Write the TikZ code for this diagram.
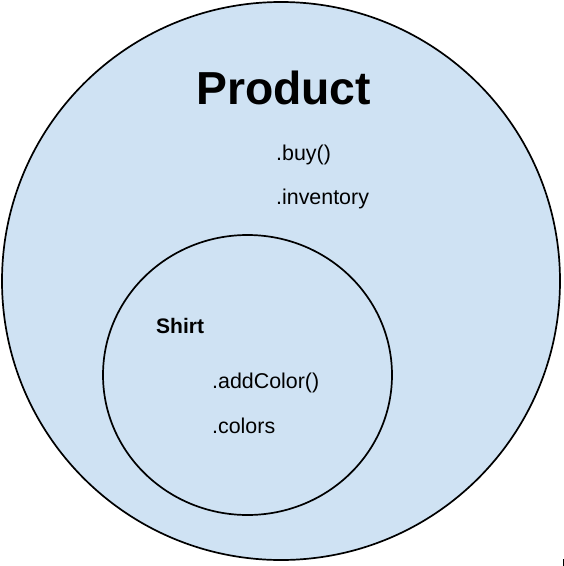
\documentclass[tikz,border=0pt]{standalone}
\usepackage{fontspec}
\setmainfont{Liberation Sans}
\definecolor{setfill}{HTML}{CFE2F3}
\begin{document}
\begin{tikzpicture}[x=1pt,y=-1pt,
  setshape/.style={draw=black,line width=1.7pt,fill=setfill},
  member/.style={inner sep=0pt,anchor=base west,font=\fontsize{21.4}{25}\selectfont},
  title/.style={inner sep=0pt,anchor=base west,font=\fontsize{46.3}{52}\bfseries\selectfont},
  subtitle/.style={inner sep=0pt,anchor=base west,font=\fontsize{21}{25}\bfseries\selectfont}]
\useasboundingbox (0,0) rectangle (564,566);
\fill[white] (0,0) rectangle (564,566);
\draw[setshape] (281,281) ellipse [x radius=279, y radius=279];
\node[coordinate] (outer) at (281,281) {};
\draw[setshape] (247.5,375) ellipse [x radius=144.5, y radius=140];
\node[title] (product) at (196,104) {Product};
\node[member] (buy) at (276,160) {.buy()};
\node[member] (inventory) at (276,204) {.inventory};
\node[subtitle] (shirt) at (156,333) {Shirt};
\node[member] (addcolor) at (212,388) {.addColor()};
\node[member] (colors) at (212,433) {.colors};
\coordinate (marktop) at (563.2,559);
\coordinate (markbot) at (563.2,566);
\draw[line width=0.8pt] (marktop) -- (markbot);
\end{tikzpicture}
\end{document}
